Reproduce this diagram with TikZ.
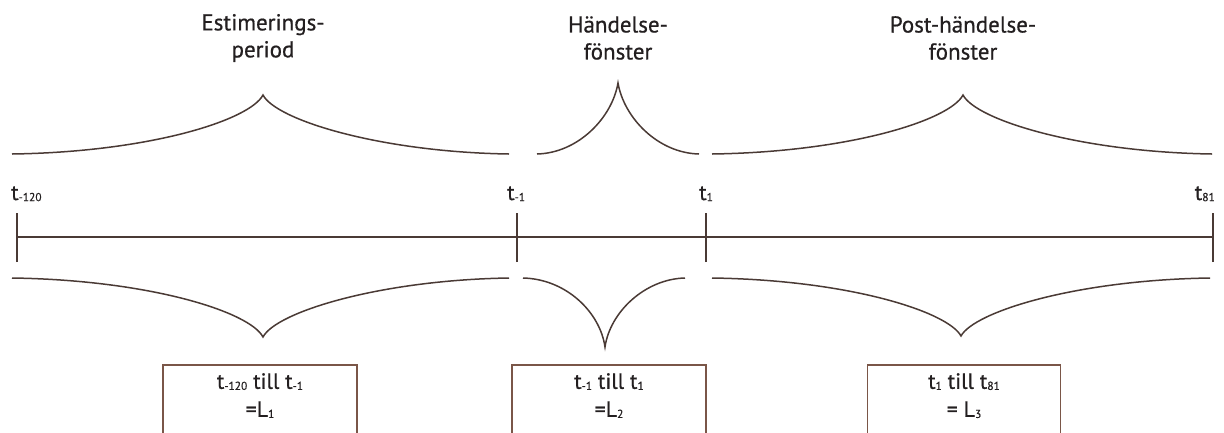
\documentclass[tikz,border=0pt]{standalone}
\usepackage{fontspec}
\setmainfont{PT Sans}
\newfontfamily\semi[FakeBold=0.6]{PT Sans}
\definecolor{ink}{HTML}{231F20}
\definecolor{linec}{HTML}{4A3A35}
\definecolor{boxc}{HTML}{7A5648}
\newcommand\lo[1]{\raisebox{-0.1ex}{\fontsize{11.5}{12}\selectfont #1}}
\tikzset{
  brace/.style={draw=linec, line width=1.5pt},
  tline/.style={draw=linec, line width=1.6pt},
  title/.style={text=ink, font=\semi\fontsize{23}{27}\selectfont, align=center, inner sep=0pt},
  tlabel/.style={text=ink, font=\semi\fontsize{22}{24}\selectfont, inner sep=0pt, anchor=base west},
  boxn/.style={draw=boxc, line width=1.5pt, fill=white, minimum width=194pt, minimum height=90pt, anchor=north, inner sep=0pt},
  boxtext/.style={text=ink, font=\semi\fontsize{22}{28}\selectfont, align=center, inner sep=0pt, anchor=north},
}
\begin{document}
\begin{tikzpicture}[x=1pt,y=-1pt]
\useasboundingbox (0,0) rectangle (1224,432);
% titles
\node[title] (t1) at (263,38) {Estimerings-\\period};
\node[title] (t2) at (618,38) {Händelse-\\fönster};
\node[title] (t3) at (963,38) {Post-händelse-\\fönster};
% upper braces
\coordinate (ua1) at (12,154); \coordinate (up1) at (263,95); \coordinate (ub1) at (509,154);
\coordinate (ua2) at (537,154); \coordinate (up2) at (618,83); \coordinate (ub2) at (699,154);
\coordinate (ua3) at (712,154); \coordinate (up3) at (963,95); \coordinate (ub3) at (1212,154);
\draw[brace] (ua1) .. controls (150,152) and (250,120) .. (up1) .. controls (276,120) and (380,152) .. (ub1);
\draw[brace] (ua2) .. controls (578,153) and (612,118) .. (up2) .. controls (624,118) and (658,153) .. (ub2);
\draw[brace] (ua3) .. controls (850,152) and (950,120) .. (up3) .. controls (976,120) and (1080,152) .. (ub3);
% tick labels
\node[tlabel] (l1) at (11,200) {t\lo{-120}};
\node[tlabel] (l2) at (507,200) {t\lo{-1}};
\node[tlabel] (l3) at (699,200) {t\lo{1}};
\node[tlabel, anchor=base east] (l4) at (1215,200) {t\lo{81}};
% timeline
\coordinate (k1) at (17,237); \coordinate (k2) at (517,237); \coordinate (k3) at (706,237); \coordinate (k4) at (1213,237);
\draw[tline] (k1) -- (k4);
\foreach \k in {k1,k2,k3,k4} \draw[tline] ([yshift=-25pt]\k) -- ([yshift=24pt]\k);
% lower braces
\coordinate (la1) at (12,278); \coordinate (lp1) at (263,337); \coordinate (lb1) at (509,278);
\coordinate (la2) at (523,278); \coordinate (lp2) at (605,347); \coordinate (lb2) at (685,278);
\coordinate (la3) at (712,278); \coordinate (lp3) at (961,336); \coordinate (lb3) at (1210,278);
\draw[brace] (la1) .. controls (150,280) and (250,312) .. (lp1) .. controls (276,312) and (380,280) .. (lb1);
\draw[brace] (la2) .. controls (566,279) and (600,312) .. (lp2) .. controls (610,312) and (645,279) .. (lb2);
\draw[brace] (la3) .. controls (850,280) and (948,312) .. (lp3) .. controls (974,312) and (1075,280) .. (lb3);
% boxes
\node[boxn] (b1) at (260,364) {};
\node[boxn] (b2) at (609,364) {};
\node[boxn, minimum width=193pt] (b3) at (964,364) {};
\node[boxtext] (x1) at (260,373) {t\lo{-120} till t\lo{-1}\\=L\lo{1}};
\node[boxtext] (x2) at (609,373) {t\lo{-1} till t\lo{1}\\=L\lo{2}};
\node[boxtext] (x3) at (964,373) {t\lo{1} till t\lo{81}\\= L\lo{3}};
\end{tikzpicture}
\end{document}
